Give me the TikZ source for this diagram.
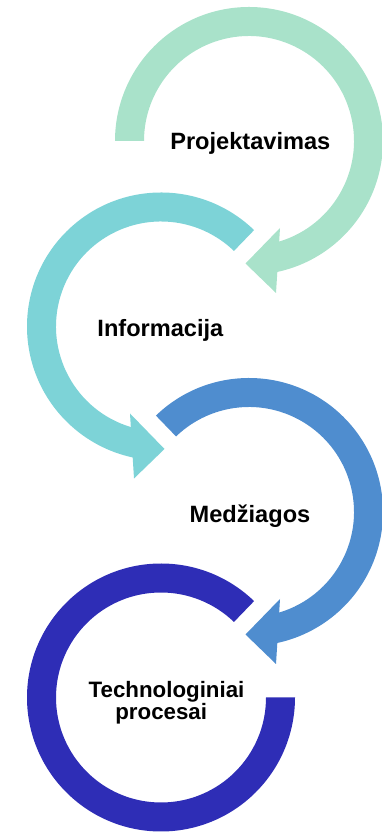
\documentclass[tikz,border=0pt]{standalone}
\usepackage{fontspec}
\setmainfont{Liberation Sans}
\definecolor{cgreen}{HTML}{A9E2CA}
\definecolor{cteal}{HTML}{7DD3D7}
\definecolor{cblue}{HTML}{4F8DCF}
\definecolor{cdark}{HTML}{2E2DB6}
\begin{document}
\begin{tikzpicture}[x=1pt,y=1pt,
  lbl/.style={font=\fontsize{23.6}{23.6}\selectfont\bfseries, inner sep=0pt, anchor=base},
  lblsmall/.style={lbl, font=\fontsize{22.3}{22.3}\selectfont\bfseries},
  arrowring/.pic={
    \fill[pic actions] (#1:134) arc[start angle=#1,end angle=-77.8,radius=134]
      -- (27,-152) -- (-3.5,-122.5) -- (31,-87) -- (-73.3:105)
      arc[start angle=-73.3,end angle=#1,radius=105] -- cycle;
  }]
\useasboundingbox (0,0) rectangle (381,832);
% rings
\pic[cgreen] at (249,691) {arrowring=180};
\pic[cteal, xscale=-1] at (161,505.5) {arrowring=134};
\pic[cblue] at (249,320) {arrowring=134};
\begin{scope}[shift={(161,134.5)}]
  \fill[cdark] (46:134) arc[start angle=46,end angle=360,radius=134]
    -- (0:105) arc[start angle=360,end angle=46,radius=105] -- cycle;
\end{scope}
% labels
\node[lbl] (proj) at (250.3,682.7) {Projektavimas};
\node[lbl] (info) at (160.4,495.3) {Informacija};
\node[lbl] (medz) at (250,309.3) {Medžiagos};
\node[lblsmall] (tech) at (166.5,134.5) {Technologiniai};
\node[lblsmall] (proc) at (161.2,112.5) {procesai};
\end{tikzpicture}
\end{document}
